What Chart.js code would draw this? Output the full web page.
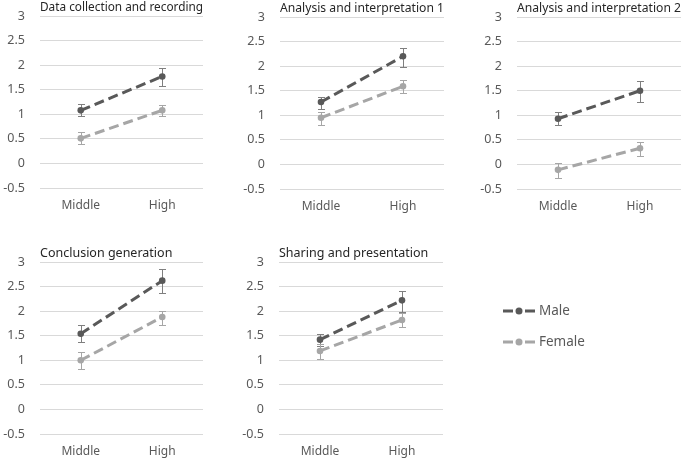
<!DOCTYPE html>
<html>
<head>
<meta charset="utf-8">
<script src="https://cdn.jsdelivr.net/npm/chart.js@4.4.0/dist/chart.umd.min.js"></script>
<style>
html, body { margin: 0; padding: 0; background: #fff; }
body { width: 685px; height: 460px; position: relative; overflow: hidden; }
.panel { position: absolute; }
</style>
</head>
<body>
<script>
var categories = ['Middle', 'High'];
var titles = ['Data collection and recording', 'Analysis and interpretation 1',
  'Analysis and interpretation 2', 'Conclusion generation', 'Sharing and presentation'];
var seriesNames = ['Male', 'Female'];

// mean and error bar ends per panel, [Middle, High]
var maleMean = [[1.08, 1.77], [1.27, 2.20], [0.93, 1.50], [1.54, 2.62], [1.42, 2.22]];
var maleLow = [[0.97, 1.58], [1.12, 1.98], [0.80, 1.27], [1.37, 2.37], [1.30, 1.99]];
var maleHigh = [[1.20, 1.95], [1.38, 2.37], [1.07, 1.70], [1.71, 2.86], [1.53, 2.41]];
var femaleMean = [[0.51, 1.08], [0.95, 1.59], [-0.11, 0.33], [1.00, 1.88], [1.19, 1.82]];
var femaleLow = [[0.40, 0.97], [0.80, 1.45], [-0.27, 0.18], [0.83, 1.71], [1.03, 1.67]];
var femaleHigh = [[0.63, 1.18], [1.07, 1.72], [0.03, 0.45], [1.17, 2.00], [1.34, 1.97]];

var yTicks = [-0.5, 0, 0.5, 1, 1.5, 2, 2.5, 3];

var MALE_COLOR = '#595959';
var FEMALE_COLOR = '#a6a6a6';
var FONT = "'Noto Sans', sans-serif";

// plot area of each panel: left, top, right, bottom
var boxes = [[40, 16, 205, 188], [280, 17, 446, 189], [517, 17, 683, 189],
  [40, 262, 205, 434], [279, 262, 443, 434]];
var AXIS_W = 40, TITLE_H = 23, XAXIS_H = 26;

var errorBars = {
  id: 'errorBars',
  beforeDatasetsDraw: function(chart) {
    var ctx = chart.ctx, ys = chart.scales.y;
    chart.data.datasets.forEach(function(ds, d) {
      var meta = chart.getDatasetMeta(d);
      ctx.save();
      ctx.strokeStyle = ds.errorColor;
      ctx.lineWidth = 1;
      meta.data.forEach(function(pt, k) {
        var x = Math.round(pt.x) + 0.5;
        var y1 = Math.round(ys.getPixelForValue(ds.errLow[k])) + 0.5;
        var y2 = Math.round(ys.getPixelForValue(ds.errHigh[k])) + 0.5;
        ctx.beginPath();
        ctx.moveTo(x, y1); ctx.lineTo(x, y2);
        ctx.moveTo(x - 3.5, y1); ctx.lineTo(x + 3.5, y1);
        ctx.moveTo(x - 3.5, y2); ctx.lineTo(x + 3.5, y2);
        ctx.stroke();
      });
      ctx.restore();
    });
  }
};

var sideLegend = {
  id: 'sideLegend',
  afterDraw: function(chart) {
    var ctx = chart.ctx, a = chart.chartArea;
    chart.data.datasets.forEach(function(ds, d) {
      var x = a.right + 60, y = a.top + 49 + d * 31;
      ctx.save();
      ctx.strokeStyle = ds.borderColor;
      ctx.lineWidth = 3;
      ctx.beginPath();
      ctx.moveTo(x, y); ctx.lineTo(x + 10, y);
      ctx.moveTo(x + 22, y); ctx.lineTo(x + 32, y);
      ctx.stroke();
      ctx.fillStyle = ds.pointBackgroundColor;
      ctx.beginPath();
      ctx.arc(x + 16, y, 3.5, 0, Math.PI * 2);
      ctx.fill();
      ctx.fillStyle = '#595959';
      ctx.font = '13.5px ' + FONT;
      ctx.textBaseline = 'middle';
      ctx.fillText(ds.label, x + 36, y);
      ctx.restore();
    });
  }
};

function makePanel(i) {
  var b = boxes[i];
  var padRight = i === 4 ? 230 : 2;
  var w = AXIS_W + (b[2] - b[0]) + padRight;
  var h = TITLE_H + (b[3] - b[1]) + XAXIS_H;
  var div = document.createElement('div');
  div.className = 'panel';
  div.style.left = (b[0] - AXIS_W) + 'px';
  div.style.top = (b[1] - TITLE_H) + 'px';
  div.style.width = w + 'px';
  div.style.height = h + 'px';
  var canvas = document.createElement('canvas');
  div.appendChild(canvas);
  document.body.appendChild(div);

  var series = [
    { label: seriesNames[0], data: maleMean[i], errLow: maleLow[i], errHigh: maleHigh[i],
      borderColor: MALE_COLOR, pointBackgroundColor: MALE_COLOR, errorColor: '#7f7f7f' },
    { label: seriesNames[1], data: femaleMean[i], errLow: femaleLow[i], errHigh: femaleHigh[i],
      borderColor: FEMALE_COLOR, pointBackgroundColor: FEMALE_COLOR, errorColor: '#a6a6a6' }
  ];
  series.forEach(function(s) {
    s.borderWidth = 3;
    s.borderDash = [10, 5];
    s.pointRadius = 3.3;
    s.pointBorderWidth = 0;
    s.pointBorderColor = s.borderColor;
    s.fill = false;
    s.tension = 0;
  });

  new Chart(canvas, {
    type: 'line',
    data: { labels: categories, datasets: series },
    plugins: i === 4 ? [errorBars, sideLegend] : [errorBars],
    options: {
      responsive: true,
      maintainAspectRatio: false,
      animation: false,
      layout: { padding: { left: 0, top: 0, bottom: 0, right: padRight } },
      plugins: {
        legend: { display: false },
        tooltip: { enabled: false },
        title: {
          display: true, text: titles[i], align: 'start', fullSize: false,
          color: '#262626', padding: { top: 7, bottom: 1 },
          font: { family: FONT, size: 12.5, weight: 'normal' }
        }
      },
      scales: {
        x: {
          offset: true,
          grid: { display: false, drawTicks: false },
          border: { display: false },
          ticks: { color: '#595959', padding: 10, font: { family: FONT, size: 12 } },
          afterFit: function(s) { s.height = XAXIS_H; }
        },
        y: {
          min: -0.5, max: 3,
          grid: { color: '#d9d9d9', lineWidth: 1, drawTicks: false },
          border: { display: false },
          ticks: {
            color: '#595959', padding: 15, font: { family: FONT, size: 12.5 },
            callback: function(v) { return String(v); }
          },
          afterBuildTicks: function(s) { s.ticks = yTicks.map(function(v) { return { value: v }; }); },
          afterFit: function(s) { s.width = AXIS_W; }
        }
      }
    }
  });
}

for (var i = 0; i < titles.length; i++) makePanel(i);
</script>
</body>
</html>
